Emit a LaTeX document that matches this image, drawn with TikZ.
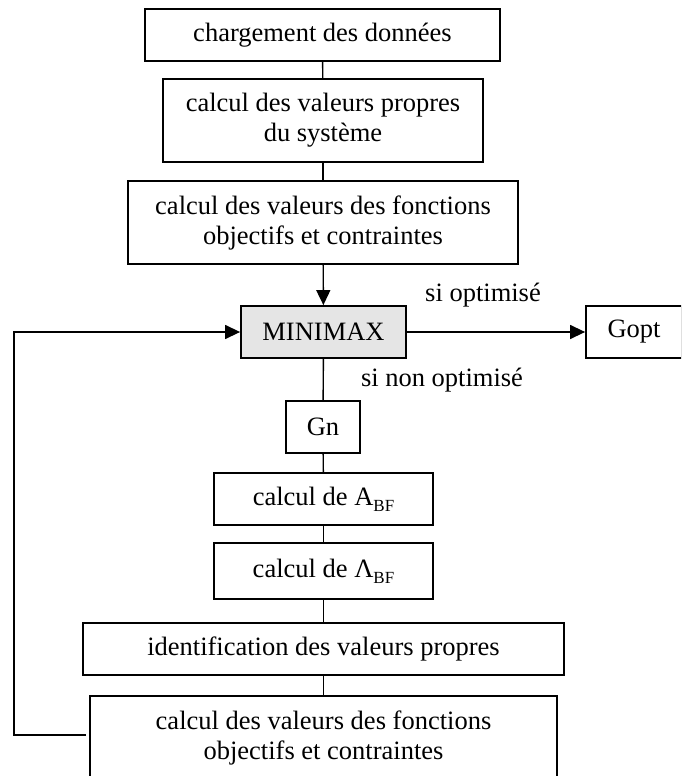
\documentclass[tikz,border=0pt]{standalone}
\usepackage{fontspec}
\setmainfont{Liberation Serif}
\usetikzlibrary{arrows.meta,calc}
\newcommand{\bsub}[1]{\raisebox{-0.22em}{\fontsize{17}{17}\selectfont #1}}
\begin{document}
\begin{tikzpicture}[x=1pt,y=-1pt,
  every node/.style={font=\fontsize{26.5}{30}\selectfont},
  box/.style={draw,line width=1.8pt,inner sep=0pt,align=center},
  conn/.style={line width=1.4pt},
  arr/.style={line width=1.4pt,-{Triangle[length=15pt,width=14pt]}},
  lbl/.style={inner sep=0pt}]
\useasboundingbox (0,0) rectangle (681,776);
\clip (0,0) rectangle (681,776);
\node[box,minimum width=355pt,minimum height=52pt] (b1) at (322.5,35) {chargement des données};
\node[box,minimum width=320pt,minimum height=83pt] (b2) at (323,120.5) {calcul des valeurs propres\\du système};
\node[box,minimum width=390pt,minimum height=83pt] (b3) at (323,222.5) {calcul des valeurs des fonctions\\objectifs et contraintes};
\node[box,fill={rgb,255:red,229;green,229;blue,229},minimum width=165pt,minimum height=52pt] (mm) at (323.5,332) {MINIMAX};
\node[box,minimum width=96pt,minimum height=52pt] (gopt) at (634,332) {Gopt};
\node[box,minimum width=74pt,minimum height=52pt] (gn) at (323,427) {Gn};
\node[box,minimum width=219pt,minimum height=52pt] (abf) at (323.5,499) {calcul de A\bsub{BF}};
\node[box,minimum width=219pt,minimum height=56pt] (lbf) at (323.5,571) {calcul de Λ\bsub{BF}};
\node[box,minimum width=481pt,minimum height=52pt] (id) at (323.5,649) {identification des valeurs propres};
\node[box,minimum width=467pt,minimum height=84pt] (last) at (323.5,738) {calcul des valeurs des fonctions\\objectifs et contraintes};
\node[lbl] (lopt) at (483,295) {si optimisé};
\node[lbl] (lnon) at (442,380) {si non optimisé};
\draw[conn] (b1) -- (b2);
\draw[conn] (b2) -- (b3);
\draw[arr] (b3) -- (mm);
\draw[arr] (mm) -- (gopt);
\draw[conn] (mm) -- (gn);
\draw[conn] (gn) -- (abf);
\draw[conn] (abf) -- (lbf);
\draw[conn] (lbf) -- (id);
\draw[conn] (id) -- (last);
\coordinate (fb) at ($(last.west)+(-3,-3)$);
\coordinate (fl) at (14,735);
\draw[arr] (fb) -- (fl) |- (mm.west);
\end{tikzpicture}
\end{document}
